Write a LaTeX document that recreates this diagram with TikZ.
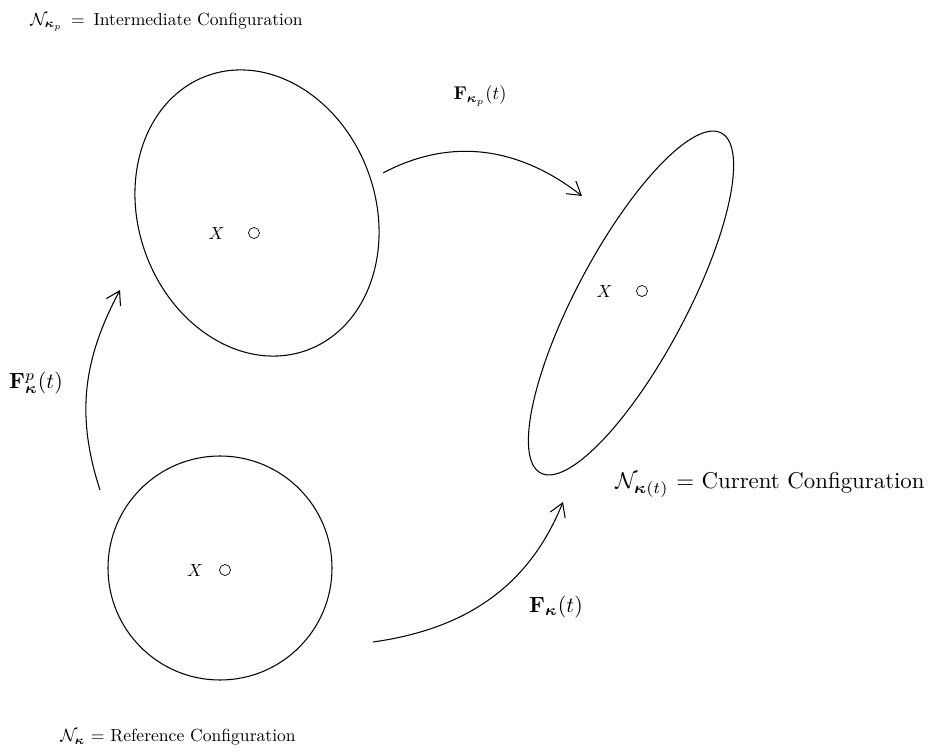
\documentclass[tikz,border=0pt]{standalone}
\usepackage{amsmath,amssymb}
\usepackage{bm}
\usetikzlibrary{arrows.meta, positioning}

\begin{document}
\begin{tikzpicture}[
        >={Straight Barb[length=2.6mm, width=3.2mm]},
        body/.style={draw, semithick},
        pt/.style={draw, circle, inner sep=0pt, minimum size=2.2mm},
        lbl/.style={anchor=west, inner sep=0pt},
        map/.style={->, semithick}
    ]
        \useasboundingbox (0,0) rectangle (19.02,15.06);

        % the three configurations
        \draw[body, rotate around={20:(5.14,10.8)}] (5.14,10.8) ellipse (2.37cm and 2.92cm);
        \draw[body, rotate around={62:(12.62,9.0)}] (12.62,9.0) ellipse (3.85cm and 1.1cm);
        \draw[body] (4.4,3.7) circle (2.24cm);

        % material point
        \node[pt] (pInter) at (5.08,10.4) {};
        \node[left=0.35cm of pInter] (xInter) {$X$};
        \node[pt] (pCurr) at (12.84,9.24) {};
        \node[left=0.35cm of pCurr] (xCurr) {$X$};
        \node[pt] (pRef) at (4.5,3.66) {};
        \node[left=0.2cm of pRef] (xRef) {$X$};

        % labels
        \node[lbl] (inter) at (0.6,14.62) {$\mathcal{N}_{\bm{\kappa}_p}$\enspace=\enspace Intermediate Configuration};
        \node[lbl, scale=1.3] (curr) at (12.3,5.36) {$\mathcal{N}_{\bm{\kappa}(t)}$ = Current Configuration};
        \node[lbl] (ref) at (1.2,0.32) {$\mathcal{N}_{\bm{\kappa}}$ = Reference Configuration};

        \node[scale=1.25] (fp) at (0.72,7.4) {$\mathbf{F}^p_{\bm{\kappa}}(t)$};
        \node[scale=1.05] (fkp) at (9.6,13.14) {$\mathbf{F}_{\bm{\kappa}_p}(t)$};
        \node[scale=1.25] (fk) at (11.12,2.92) {$\mathbf{F}_{\bm{\kappa}}(t)$};

        % ends of the maps
        \coordinate (refUp) at (2.0,5.26);
        \coordinate (interDown) at (2.4,9.26);
        \coordinate (interOut) at (7.66,11.6);
        \coordinate (currIn) at (11.64,11.14);
        \coordinate (refOut) at (7.46,2.22);
        \coordinate (currUp) at (11.26,5.02);

        \draw[map] (refUp) to[out=108, in=-118] (interDown);
        \draw[map] (interOut) to[out=28, in=142] (currIn);
        \draw[map] (refOut) to[out=8, in=-112] (currUp);
    \end{tikzpicture}
\end{document}
